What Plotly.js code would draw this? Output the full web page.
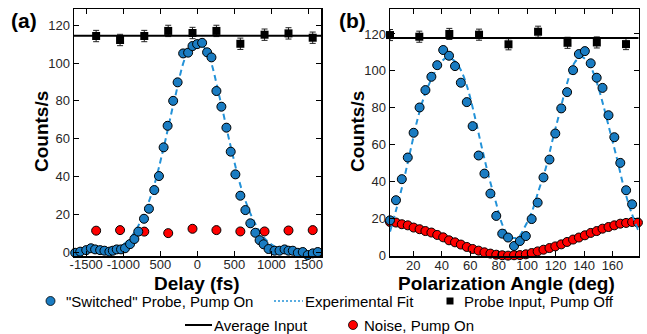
<!DOCTYPE html>
<html>
<head>
<meta charset="utf-8">
<script src="https://cdn.plot.ly/plotly-3.0.1.min.js"></script>
<style>html,body{margin:0;padding:0;background:#fff;}#chart{width:647px;height:334px;}</style>
</head>
<body>
<div id="chart"></div>
<script>
// ---------- Panel (a): delay scan ----------
const delayProbe = [-1649,-1581,-1500,-1437,-1380,-1312,-1254,-1187,-1141,-1088,-1030,-976,-908,-850,-797,-720,-653,-581,-518,-455,-401,-326,-266,-191,-124,-65,-3,65,132,191,258,325,393,451,514,581,649,716,783,841,895,962,1043,1110,1178,1231,1289,1357,1424,1491,1559,1626];
const countsProbeA = [-0.4,0.2,1,2,1.4,1,0.7,0.2,0.7,1.4,1.4,2,4.2,6.9,10.8,17.6,22.9,32.8,40.2,55.4,66.8,80,89.8,105.1,105.5,109,110,110.7,105.7,103,85.2,76.9,65.8,53.1,41.1,29.8,22.2,15.2,10.2,6.3,4.1,1.6,0.7,0.7,1.4,0.7,0.7,-0.4,0,-1.6,-0.7,0];
const delayFit = [-1650,-1500,-1350,-1200,-1050,-900,-750,-600,-450,-300,-150,0,150,300,450,600,750,900,1050,1200,1350,1500,1650];
const countsFitA = [0,0,0.2,0.8,2.7,7.6,17.5,33,56,82,104,112,104,82,56,33,17.5,7.6,2.7,0.8,0.2,0,0];
const delayInput = [-1366,-1043,-716,-393,-65,258,581,908,1231,1558];
const countsInputA = [114.3,112.2,114.3,117,115.9,117,110.2,115,115.7,113.4];
const countsNoiseA = [11.3,11.6,10.8,10.0,12.3,11.6,10.9,10.9,11.4,11.6];
const avgInputA = 114.5;
const delayTickVals = [-1500,-1000,-500,0,500,1000,1500];
const delayTickText = ["-1500","-1000","500","0","500","1000","1500"];

// ---------- Panel (b): polarization scan ----------
const angleGrid = [3.6,7.8,11.9,16.1,20.2,24.4,28.5,32.7,36.8,41.0,45.1,49.3,53.4,57.6,61.7,65.9,70.0,74.2,78.3,82.5,86.6,90.8,94.9,99.1,103.2,107.4,111.5,115.7,119.8,124.0,128.1,132.3,136.4,140.6,144.7,148.9,153.0,157.2,161.3,165.5,169.6,173.8,177.9];
const countsProbeB = [19.1,30,41.4,53.1,66.5,80.2,89.6,96.8,103.1,111.3,108.2,102.6,93.6,83.1,70.1,54.2,44.4,33.6,21.5,11.9,9.8,5.2,7.9,10.6,19.8,28.7,42.3,52,66.1,79.7,88.5,100.4,109.1,110.7,104.1,96.3,90.8,76,64.1,50.2,35.4,27.8];
const countsNoiseB = [18.2,17.9,17.0,16.4,15.2,14.3,13.3,12.5,11.2,9.9,8.3,7.2,6.0,4.7,3.6,2.7,1.8,1.1,0.5,0.2,0.0,0.2,0.3,0.7,1.4,2.3,3.2,4.1,5.0,6.1,7.4,8.7,9.8,11.0,12.3,13.3,14.6,15.5,16.4,17.3,17.7,18.2,17.9];
const angleFit = [3.6,8,13,18,23,28,33,38,43,48,53,58,63,68,73,78,83,88,91,94,98,103,108,113,118,123,128,133,138,143,148,153,158,163,168,173,178];
const countsFitB = [13,25,40,57,74,87,96,103,107,106,101,91,76,59,43,29,16,10,9.5,10,15,23,35,47,63,78,93,104,107.6,104.5,96,83,68,53,37,24,14];
const angleInput = [3.6,24.2,45.3,66.2,86.9,107.7,128.4,149,169.5];
const countsInputB = [119.4,118.5,120,119.6,114.4,121.2,115.2,115.4,114.5];
const avgInputB = 117.8;

const probeErr = 2;
const inputErr = 3;

const BLUE = '#1a7cc2';
const FITBLUE = '#2392d8';
const FONT = 'Liberation Sans, Arial, sans-serif';
const W = 647, H = 334;

function probeTrace(x, y, xa, ya) {
  return {x, y, xaxis: xa, yaxis: ya, type: 'scatter', mode: 'markers', cliponaxis: false,
    marker: {color: BLUE, size: 9, line: {color: '#000', width: 1}},
    error_y: {type: 'constant', value: probeErr, color: '#222', thickness: 1, width: 2},
    showlegend: false, name: '"Switched" Probe, Pump On'};
}
function fitTrace(x, y, xa, ya) {
  return {x, y, xaxis: xa, yaxis: ya, type: 'scatter', mode: 'lines', cliponaxis: true,
    line: {color: FITBLUE, width: 2, dash: '6px,4px', shape: 'spline'},
    showlegend: false, name: 'Experimental Fit'};
}
function inputTrace(x, y, xa, ya) {
  return {x, y, xaxis: xa, yaxis: ya, type: 'scatter', mode: 'markers', cliponaxis: false,
    marker: {color: '#000', size: 8, symbol: 'square'},
    error_y: {type: 'constant', value: inputErr, color: '#222', thickness: 1, width: 3},
    showlegend: false, name: 'Probe Input, Pump Off'};
}
function noiseTrace(x, y, xa, ya) {
  return {x, y, xaxis: xa, yaxis: ya, type: 'scatter', mode: 'markers', cliponaxis: false,
    marker: {color: '#ff0000', size: 9, line: {color: '#000', width: 1}},
    showlegend: false, name: 'Noise, Pump On'};
}

const data = [
  fitTrace(delayFit, countsFitA, 'x', 'y'),
  noiseTrace(delayInput, countsNoiseA, 'x', 'y'),
  probeTrace(delayProbe, countsProbeA, 'x', 'y'),
  inputTrace(delayInput, countsInputA, 'x', 'y'),
  noiseTrace(angleGrid, countsNoiseB, 'x2', 'y2'),
  fitTrace(angleFit, countsFitB, 'x2', 'y2'),
  probeTrace(angleGrid.slice(0, countsProbeB.length), countsProbeB, 'x2', 'y2'),
  inputTrace(angleInput, countsInputB, 'x2', 'y2')
];

const axisCommon = {showline: true, linecolor: '#000', linewidth: 1.5, mirror: 'ticks', ticks: 'inside',
  ticklen: 5, tickwidth: 1, tickcolor: '#000', showgrid: false, zeroline: false,
  tickfont: {family: FONT, size: 13, color: '#262626'}};

const px = v => v / W, py = v => 1 - v / H;

const shapes = [
  {type: 'line', xref: 'x domain', yref: 'y', x0: 0, x1: 1, y0: avgInputA, y1: avgInputA, line: {color: '#000', width: 2}, layer: 'above'},
  {type: 'line', xref: 'x2 domain', yref: 'y2', x0: 0, x1: 1, y0: avgInputB, y1: avgInputB, line: {color: '#000', width: 2}, layer: 'above'},
  // legend symbols
  {type: 'circle', xref: 'paper', yref: 'paper', x0: px(46), x1: px(55), y0: py(305.5), y1: py(296.5), fillcolor: BLUE, line: {color: '#000', width: 0.8}},
  {type: 'line', xref: 'paper', yref: 'paper', x0: px(274), x1: px(303), y0: py(301), y1: py(301), line: {color: FITBLUE, width: 1.5, dash: '2px,2px'}},
  {type: 'rect', xref: 'paper', yref: 'paper', x0: px(446.5), x1: px(453.5), y0: py(304.5), y1: py(297.5), fillcolor: '#000', line: {width: 0}},
  {type: 'line', xref: 'paper', yref: 'paper', x0: px(185), x1: px(212), y0: py(325), y1: py(325), line: {color: '#000', width: 2}},
  {type: 'circle', xref: 'paper', yref: 'paper', x0: px(348.5), x1: px(357.5), y0: py(329.5), y1: py(320.5), fillcolor: '#ff0000', line: {color: '#000', width: 0.8}}
];

const legendText = (x, y, t) => ({xref: 'paper', yref: 'paper', x: px(x), y: py(y), text: t, showarrow: false,
  xanchor: 'left', yanchor: 'middle', font: {family: FONT, size: 15, color: '#000'}});
const boldText = (x, y, t, size, angle) => ({xref: 'paper', yref: 'paper', x: px(x), y: py(y), text: '<b>' + t + '</b>',
  showarrow: false, xanchor: 'center', yanchor: 'middle', textangle: angle || 0, font: {family: FONT, size, color: '#000'}});

const annotations = [
  boldText(24, 20, '(a)', 21),
  boldText(352, 20, '(b)', 21),
  boldText(41, 132, 'Counts/s', 19, -90),
  boldText(357, 132, 'Counts/s', 19, -90),
  boldText(197, 283, 'Delay (fs)', 19),
  boldText(506, 283, 'Polarization Angle (deg)', 19),
  legendText(64, 301, '"Switched" Probe, Pump On'),
  legendText(303, 301, 'Experimental Fit'),
  legendText(462, 301, 'Probe Input, Pump Off'),
  legendText(212, 325, 'Average Input'),
  legendText(362, 325, 'Noise, Pump On')
];

const layout = {
  width: W, height: H, margin: {l: 0, r: 0, t: 0, b: 0},
  paper_bgcolor: '#fff', plot_bgcolor: '#fff', showlegend: false,
  font: {family: FONT},
  xaxis: Object.assign({}, axisCommon, {domain: [74 / W, 321 / W], range: [-1665, 1670], tickvals: delayTickVals, ticktext: delayTickText, anchor: 'y', ticklabelstandoff: -4}),
  yaxis: Object.assign({}, axisCommon, {domain: [1 - 256 / H, 1 - 9 / H], range: [-2.1, 128.6], tickvals: [0,20,40,60,80,100,120], anchor: 'x'}),
  xaxis2: Object.assign({}, axisCommon, {domain: [390 / W, 638.5 / W], range: [3.6, 178.3], tickvals: [20,40,60,80,100,120,140,160], anchor: 'y2', ticklabelstandoff: -3}),
  yaxis2: Object.assign({}, axisCommon, {domain: [1 - 256 / H, 1 - 9 / H], range: [-0.2, 133.5], tickvals: [0,20,40,60,80,100,120], anchor: 'x2'}),
  shapes, annotations
};

Plotly.newPlot('chart', data, layout, {staticPlot: true, displayModeBar: false});
</script>
</body>
</html>
